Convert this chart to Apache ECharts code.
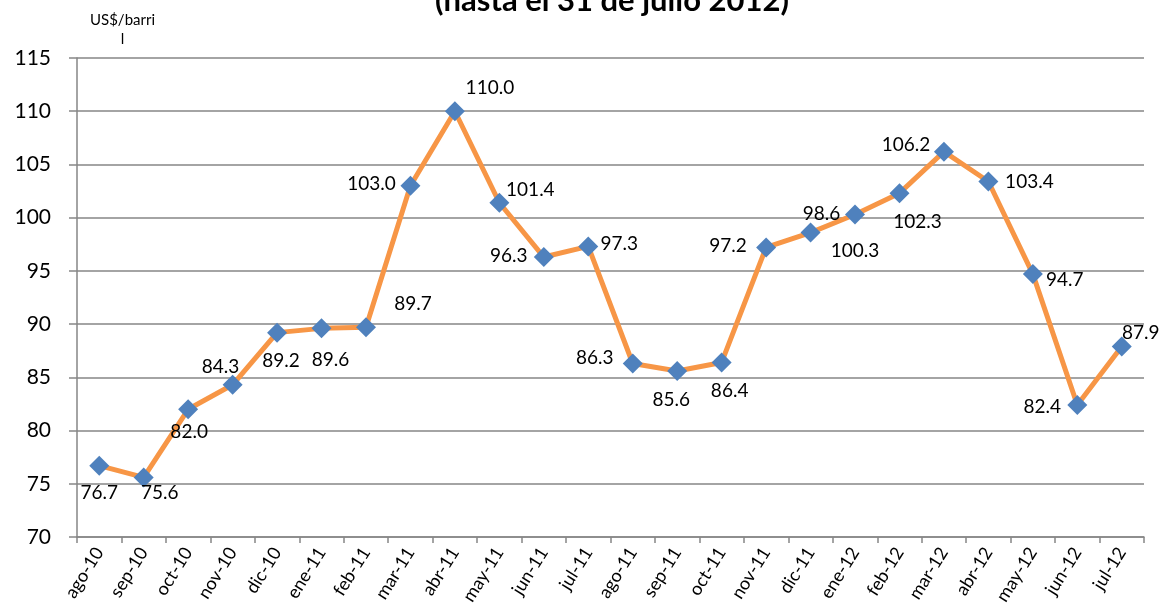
<!DOCTYPE html>
<html><head><meta charset="utf-8">
<script src="https://cdn.jsdelivr.net/npm/echarts@6/dist/echarts.min.js"></script>
<style>html,body{margin:0;padding:0;background:#fff}#c{width:1165px;height:612px}</style>
</head><body><div id="c"></div>
<script>
const categories = ['ago-10','sep-10','oct-10','nov-10','dic-10','ene-11','feb-11','mar-11','abr-11','may-11','jun-11','jul-11','ago-11','sep-11','oct-11','nov-11','dic-11','ene-12','feb-12','mar-12','abr-12','may-12','jun-12','jul-12'];
const prices = [76.7,75.6,82.0,84.3,89.2,89.6,89.7,103.0,110.0,101.4,96.3,97.3,86.3,85.6,86.4,97.2,98.6,100.3,102.3,106.2,103.4,94.7,82.4,87.9];
const yTicks = [70,75,80,85,90,95,100,105,110,115];
// label offset from marker centre (dx, dy) in px, as placed in the reference
const labelOffsets = [[0,27],[16,15],[1,23],[-12,-18],[4,28],[9,32],[47,-23],[-39,-2],[35,-23],[31,-13],[-35,-1],[31,-3],[-38,-6],[-6,29],[8,28],[-38,-2],[11,-19],[0,36],[18,29],[-38,-7],[41,0],[32,6],[-35,2],[19,-14]];

const chart = echarts.init(document.getElementById('c'));
const F = 'Lato, "Open Sans", sans-serif';
chart.setOption({
  animation:false,
  title:{text:'(hasta el 31 de julio 2012)', left:607, textAlign:'center', top:-20,
    textStyle:{fontFamily:F, fontWeight:'bold', fontSize:31, color:'#000'}},
  graphic:[{type:'text', left:90, top:11, style:{text:'US$/barri\n        l', font:'15px '+F, fill:'#000', lineHeight:19}}],
  grid:{left:77, right:21, top:58, bottom:75},
  xAxis:{type:'category', data:categories, boundaryGap:true,
    axisLine:{lineStyle:{color:'#868686', width:1.5}},
    axisTick:{show:true, length:6, lineStyle:{color:'#868686', width:1.5}},
    axisLabel:{rotate:58, fontFamily:F, fontSize:18, color:'#000', margin:12, interval:0}},
  yAxis:{type:'value', min:70, max:115, interval:5,
    axisLine:{show:true, lineStyle:{color:'#868686', width:1.5}},
    axisTick:{show:true, length:8, lineStyle:{color:'#868686', width:1.5}},
    splitLine:{lineStyle:{color:'#868686', width:1.5}},
    axisLabel:{fontFamily:F, fontSize:21, color:'#000', margin:26,
      formatter:v=>yTicks.includes(v)?String(v):''}},
  series:[{type:'line', data:prices.map((v,i)=>({value:v, label:{position:'inside', offset:labelOffsets[i]}})),
    symbol:'diamond', symbolSize:20, showAllSymbol:true,
    lineStyle:{color:'#F79646', width:5},
    itemStyle:{color:'#4F81BD'},
    label:{show:true, fontFamily:F, fontSize:19, color:'#000', formatter:p=>p.value.toFixed(1)}}]
});
</script></body></html>
